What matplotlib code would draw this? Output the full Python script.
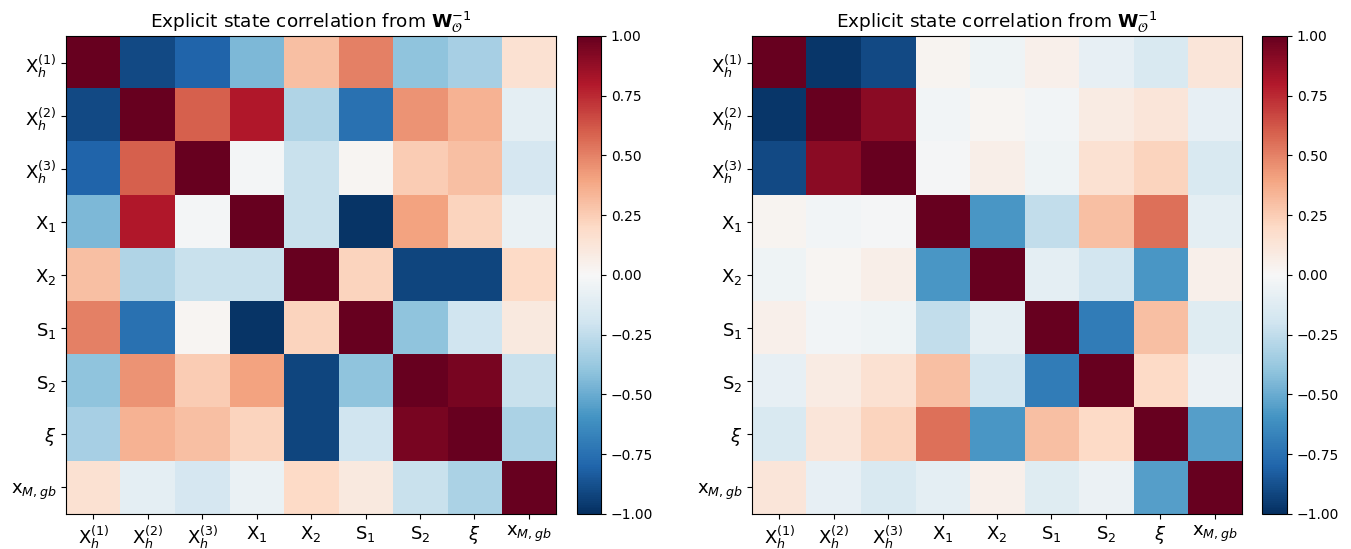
import matplotlib.pyplot as plt
import numpy as np

labels = [r'$\mathrm{X}_h^{(1)}$', r'$\mathrm{X}_h^{(2)}$', r'$\mathrm{X}_h^{(3)}$',
          r'$\mathrm{X}_1$', r'$\mathrm{X}_2$', r'$\mathrm{S}_1$', r'$\mathrm{S}_2$',
          r'$\xi$', r'$\mathrm{x}_{M,gb}$']

# correlation from the first estimate
corr_left = [
    [1.00, -0.90, -0.80, -0.45, 0.30, 0.50, -0.40, -0.33, 0.15],
    [-0.90, 1.00, 0.60, 0.80, -0.30, -0.75, 0.45, 0.35, -0.10],
    [-0.80, 0.60, 1.00, -0.02, -0.22, 0.02, 0.25, 0.30, -0.17],
    [-0.45, 0.80, -0.02, 1.00, -0.22, -0.98, 0.40, 0.22, -0.07],
    [0.30, -0.30, -0.22, -0.22, 1.00, 0.22, -0.92, -0.92, 0.20],
    [0.50, -0.75, 0.02, -0.98, 0.22, 1.00, -0.40, -0.20, 0.10],
    [-0.40, 0.45, 0.25, 0.40, -0.92, -0.40, 1.00, 0.95, -0.22],
    [-0.33, 0.35, 0.30, 0.22, -0.92, -0.20, 0.95, 1.00, -0.32],
    [0.15, -0.10, -0.17, -0.07, 0.20, 0.10, -0.22, -0.32, 1.00],
]

# correlation from the second estimate
corr_right = [
    [1.00, -0.97, -0.90, 0.03, -0.04, 0.05, -0.08, -0.15, 0.12],
    [-0.97, 1.00, 0.90, -0.03, 0.02, -0.03, 0.08, 0.12, -0.08],
    [-0.90, 0.90, 1.00, -0.01, 0.06, -0.04, 0.15, 0.22, -0.15],
    [0.03, -0.03, -0.01, 1.00, -0.58, -0.25, 0.30, 0.55, -0.10],
    [-0.04, 0.02, 0.06, -0.58, 1.00, -0.10, -0.18, -0.58, 0.05],
    [0.05, -0.03, -0.04, -0.25, -0.10, 1.00, -0.70, 0.30, -0.12],
    [-0.08, 0.08, 0.15, 0.30, -0.18, -0.70, 1.00, 0.20, -0.06],
    [-0.15, 0.12, 0.22, 0.55, -0.58, 0.30, 0.20, 1.00, -0.55],
    [0.12, -0.08, -0.15, -0.10, 0.05, -0.12, -0.06, -0.55, 1.00],
]

title = r'Explicit state correlation from $\mathbf{W}_{\mathcal{O}}^{-1}$'

fig = plt.figure(figsize=(13.51, 5.49), dpi=100)
bottom, height = 0.0638, 0.8707
panels = [
    (corr_left, [0.0489, bottom, 0.3627, height], [0.4271, bottom, 0.0178, height]),
    (corr_right, [0.5566, bottom, 0.3627, height], [0.9341, bottom, 0.0185, height]),
]

for corr, ax_pos, cb_pos in panels:
    ax = fig.add_axes(ax_pos)
    cax = fig.add_axes(cb_pos)
    im = ax.imshow(np.array(corr), cmap='RdBu_r', vmin=-1, vmax=1, aspect='auto')
    ax.set_xticks(range(len(labels)))
    ax.set_yticks(range(len(labels)))
    ax.set_xticklabels(labels, fontsize=13)
    ax.set_yticklabels(labels, fontsize=13)
    ax.set_title(title, fontsize=13.3)
    cb = fig.colorbar(im, cax=cax)
    cb.set_ticks([-1, -0.75, -0.5, -0.25, 0, 0.25, 0.5, 0.75, 1])
    cb.ax.tick_params(labelsize=10)

plt.savefig('out.png', dpi=100)
